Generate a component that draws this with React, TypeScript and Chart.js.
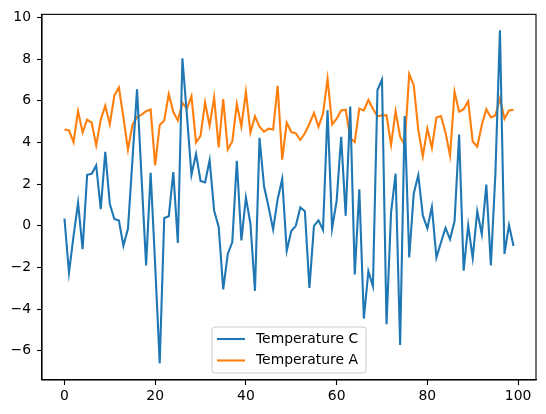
import React, { useEffect, useRef } from "react";
import { Chart, registerables } from "chart.js";

Chart.register(...registerables);

const seriesNames = ["Temperature C", "Temperature A"];
const seriesColors = ["#1f77b4", "#ff7f0e"];

const tempC = [
  0.35, -2.25, -0.5, 1.1, -1.12, 2.45, 2.5, 2.9, 0.8, 3.55,
  1.05, 0.33, 0.25, -0.95, -0.14, 3.2, 6.55, 2.3, -1.9, 2.55,
  -1.9, -6.6, 0.38, 0.46, 2.58, -0.82, 8.04, 5.3, 2.45, 3.45,
  2.15, 2.08, 3.15, 0.72, -0.05, -3.05, -1.35, -0.78, 3.12, -0.7,
  1.35, 0.1, -3.12, 4.22, 1.9, 0.9, -0.17, 1.28, 2.25, -1.2,
  -0.25, 0.0, 0.88, 0.7, -2.98, 0.0, 0.26, -0.2, 5.55, -0.12,
  1.2, 4.27, 0.48, 5.72, -2.33, 1.75, -4.45, -2.18, -2.9, 6.52,
  7.02, -4.72, 0.65, 2.5, -5.72, 5.27, -1.52, 1.55, 2.43, 0.5,
  -0.12, 0.9, -1.52, -0.8, -0.1, -0.65, 0.23, 4.38, -2.15, 0.02,
  -1.55, 0.7, -0.4, 1.98, -1.9, 2.5, 9.38, -1.35, 0.03, -0.97,
];

const tempA = [
  4.62, 4.58, 4.02, 5.5, 4.48, 5.1, 4.95, 3.86, 5.1, 5.76,
  4.88, 6.25, 6.64, 5.2, 3.66, 4.84, 5.22, 5.34, 5.5, 5.58,
  2.9, 4.84, 5.06, 6.32, 5.46, 5.06, 5.9, 5.62, 6.22, 4.0,
  4.32, 5.92, 4.8, 6.16, 3.76, 6.08, 3.66, 4.05, 5.85, 4.76,
  6.43, 4.48, 5.25, 4.76, 4.52, 4.66, 4.62, 6.72, 3.18, 4.95,
  4.5, 4.44, 4.12, 4.44, 4.9, 5.42, 4.76, 5.38, 7.06, 4.86,
  5.14, 5.54, 5.57, 4.2, 4.02, 5.62, 5.54, 6.04, 5.62, 5.26,
  5.3, 5.3, 3.88, 5.5, 4.28, 3.88, 7.28, 6.75, 4.6, 3.34,
  4.67, 3.74, 5.2, 5.27, 4.48, 3.38, 6.43, 5.48, 5.6, 5.98,
  4.05, 3.8, 4.84, 5.6, 5.2, 5.3, 6.12, 5.14, 5.54, 5.57,
];

const xTicks = [0, 20, 40, 60, 80, 100];
const yTicks = [-6, -4, -2, 0, 2, 4, 6, 8, 10];

const FONT = '"DejaVu Sans", sans-serif';

const framePlugin = {
  id: "frameAndLegend",
  afterDatasetsDraw(chart: any) {
    const { ctx, chartArea } = chart;
    ctx.save();
    // spines
    ctx.strokeStyle = "#000";
    ctx.lineWidth = 1.1;
    ctx.strokeRect(chartArea.left, chartArea.top, chartArea.right - chartArea.left, chartArea.bottom - chartArea.top);

    // legend (lower center, inside axes)
    const boxW = 154;
    const boxH = 46;
    const cx = (chartArea.left + chartArea.right) / 2;
    const x0 = cx - boxW / 2;
    const y0 = chartArea.bottom - 7 - boxH;
    const r = 3;
    ctx.beginPath();
    ctx.moveTo(x0 + r, y0);
    ctx.lineTo(x0 + boxW - r, y0);
    ctx.quadraticCurveTo(x0 + boxW, y0, x0 + boxW, y0 + r);
    ctx.lineTo(x0 + boxW, y0 + boxH - r);
    ctx.quadraticCurveTo(x0 + boxW, y0 + boxH, x0 + boxW - r, y0 + boxH);
    ctx.lineTo(x0 + r, y0 + boxH);
    ctx.quadraticCurveTo(x0, y0 + boxH, x0, y0 + boxH - r);
    ctx.lineTo(x0, y0 + r);
    ctx.quadraticCurveTo(x0, y0, x0 + r, y0);
    ctx.closePath();
    ctx.fillStyle = "rgba(255,255,255,0.8)";
    ctx.fill();
    ctx.strokeStyle = "#cccccc";
    ctx.lineWidth = 1;
    ctx.stroke();

    ctx.font = `13.9px ${FONT}`;
    ctx.textBaseline = "middle";
    ctx.textAlign = "left";
    seriesNames.forEach((name, i) => {
      const yy = y0 + 12 + i * 21.5;
      ctx.strokeStyle = seriesColors[i];
      ctx.lineWidth = 2.1;
      ctx.beginPath();
      ctx.moveTo(x0 + 5, yy);
      ctx.lineTo(x0 + 33, yy);
      ctx.stroke();
      ctx.fillStyle = "#000";
      ctx.fillText(name, x0 + 44, yy);
    });
    ctx.restore();
  },
};

export default function App() {
  const ref = useRef<HTMLCanvasElement | null>(null);

  useEffect(() => {
    document.body.style.margin = "0";
    const canvas = ref.current;
    if (!canvas) return;
    const mk = (arr: number[]) => arr.map((v, i) => ({ x: i, y: v }));
    const chart = new Chart(canvas, {
      type: "line",
      data: {
        datasets: [
          {
            label: seriesNames[0],
            data: mk(tempC),
            borderColor: seriesColors[0],
            backgroundColor: seriesColors[0],
            borderWidth: 2.1,
            pointRadius: 0,
            tension: 0,
            fill: false,
          },
          {
            label: seriesNames[1],
            data: mk(tempA),
            borderColor: seriesColors[1],
            backgroundColor: seriesColors[1],
            borderWidth: 2.1,
            pointRadius: 0,
            tension: 0,
            fill: false,
          },
        ],
      },
      options: {
        animation: false,
        responsive: false,
        devicePixelRatio: 1,
        layout: { padding: { left: 0, top: 12, right: 10, bottom: 0 } },
        plugins: {
          legend: { display: false },
          tooltip: { enabled: false },
        },
        scales: {
          x: {
            type: "linear",
            min: -4.95,
            max: 103.95,
            afterBuildTicks: (scale: any) => {
              scale.ticks = xTicks.map((v) => ({ value: v }));
            },
            afterFit: (scale: any) => {
              scale.height = 34;
            },
            grid: {
              drawOnChartArea: false,
              drawTicks: true,
              tickLength: 5,
              tickWidth: 1.1,
              tickColor: "#000",
            },
            border: { display: true, color: "#000", width: 1.1 },
            ticks: {
              color: "#000",
              font: { family: FONT, size: 13.9 },
              padding: 3,
              maxRotation: 0,
              autoSkip: false,
              callback: (v: any) => String(v),
            },
          },
          y: {
            type: "linear",
            min: -7.4,
            max: 10.15,
            afterBuildTicks: (scale: any) => {
              scale.ticks = yTicks.map((v) => ({ value: v }));
            },
            afterFit: (scale: any) => {
              scale.width = 42;
            },
            grid: {
              drawOnChartArea: false,
              drawTicks: true,
              tickLength: 5,
              tickWidth: 1.1,
              tickColor: "#000",
            },
            border: { display: true, color: "#000", width: 1.1 },
            ticks: {
              color: "#000",
              font: { family: FONT, size: 13.9 },
              padding: 6,
              autoSkip: false,
              callback: (v: any) => (v < 0 ? "\u2212" + Math.abs(v) : String(v)),
            },
          },
        },
      },
      plugins: [framePlugin],
    } as any);
    return () => chart.destroy();
  }, []);

  return (
    <div style={{ width: 546, height: 414, background: "#fff" }}>
      <canvas ref={ref} width={546} height={414} style={{ display: "block", width: 546, height: 414 }} />
    </div>
  );
}
